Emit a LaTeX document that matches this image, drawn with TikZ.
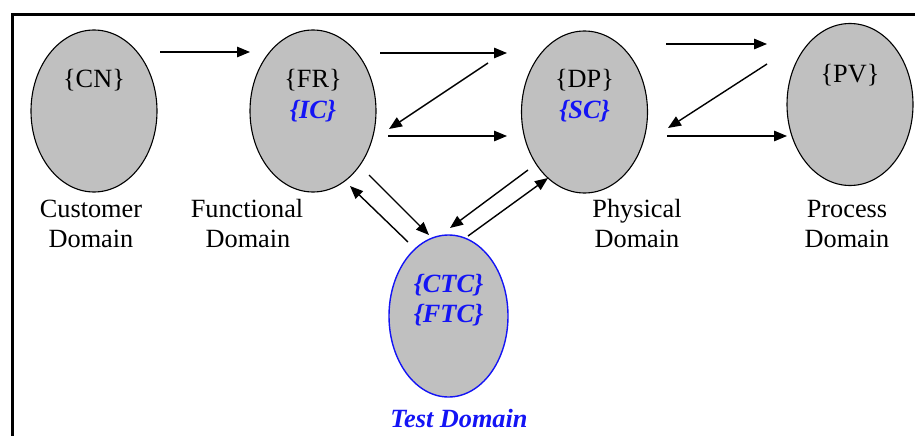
\documentclass[tikz,border=0pt]{standalone}
\usepackage{fontspec}
\setmainfont{Liberation Serif}
\usetikzlibrary{shapes.geometric,arrows.meta}
\definecolor{domfill}{RGB}{192,192,192}
\definecolor{testblue}{RGB}{20,20,245}
\tikzset{
  dom/.style={ellipse, draw=black, line width=1.1pt, fill=domfill, inner sep=0pt,
              minimum width=126pt, minimum height=162pt},
  testdom/.style={dom, draw=testblue, line width=1.4pt, minimum width=119pt},
  txt/.style={anchor=base, inner sep=0pt, font=\fontsize{26.3}{30}\selectfont},
  btxt/.style={txt, text=testblue, font=\fontsize{26.3}{30}\selectfont\bfseries\itshape},
  flow/.style={line width=1.4pt, -{Triangle[length=13pt,width=10.5pt]}}
}
\begin{document}
\begin{tikzpicture}[x=1pt,y=-1pt]
\useasboundingbox (0,0) rectangle (915,436);
% frame
\draw[line width=3.5pt] (12.5,436) |- (915,14.5);

% domains
\node[dom] (CN) at (94,111) {};
\node[dom] (FR) at (313,111) {};
\node[dom] (DP) at (584.5,112) {};
\node[dom] (PV) at (850,104.5) {};
\node[testdom] (TD) at (448.5,316) {};

% characteristic vectors
\node[txt] (tCN) at (94,87) {\{CN\}};
\node[txt] (tFR) at (313,87) {\{FR\}};
\node[btxt] (tIC) at (313,118) {\{IC\}};
\node[txt] (tDP) at (584.5,88) {\{DP\}};
\node[btxt] (tSC) at (584.5,118) {\{SC\}};
\node[txt] (tPV) at (850,82) {\{PV\}};
\node[btxt] (tCTC) at (448.5,292) {\{CTC\}};
\node[btxt] (tFTC) at (448.5,322) {\{FTC\}};

% domain names
\node[txt] (lCN1) at (91,217) {Customer};
\node[txt] (lCN2) at (91,247) {Domain};
\node[txt] (lFR1) at (247,217) {Functional};
\node[txt] (lFR2) at (248,247) {Domain};
\node[txt] (lDP1) at (637,217) {Physical};
\node[txt] (lDP2) at (637,247) {Domain};
\node[txt] (lPV1) at (847,217) {Process};
\node[txt] (lPV2) at (847,247) {Domain};
\node[btxt] (lTD) at (459,427) {Test Domain};

% arrow end points
\coordinate (a1s) at (160,52);  \coordinate (a1e) at (250,52);
\coordinate (a2s) at (380,53);  \coordinate (a2e) at (507,53);
\coordinate (a3s) at (488,63);  \coordinate (a3e) at (389,129);
\coordinate (a4s) at (388,136); \coordinate (a4e) at (507,136);
\coordinate (a5s) at (666,44);  \coordinate (a5e) at (767,44);
\coordinate (a6s) at (767,64);  \coordinate (a6e) at (668,128);
\coordinate (a7s) at (667,136); \coordinate (a7e) at (787,136);
\coordinate (a8s) at (408,242); \coordinate (a8e) at (350,186);
\coordinate (a9s) at (369,175); \coordinate (a9e) at (429,235);
\coordinate (a10s) at (528,170); \coordinate (a10e) at (450,228);
\coordinate (a11s) at (468,236); \coordinate (a11e) at (548,178);

% zigzag mappings
\foreach \i in {1,...,11} \draw[flow] (a\i s) -- (a\i e);
\end{tikzpicture}
\end{document}
